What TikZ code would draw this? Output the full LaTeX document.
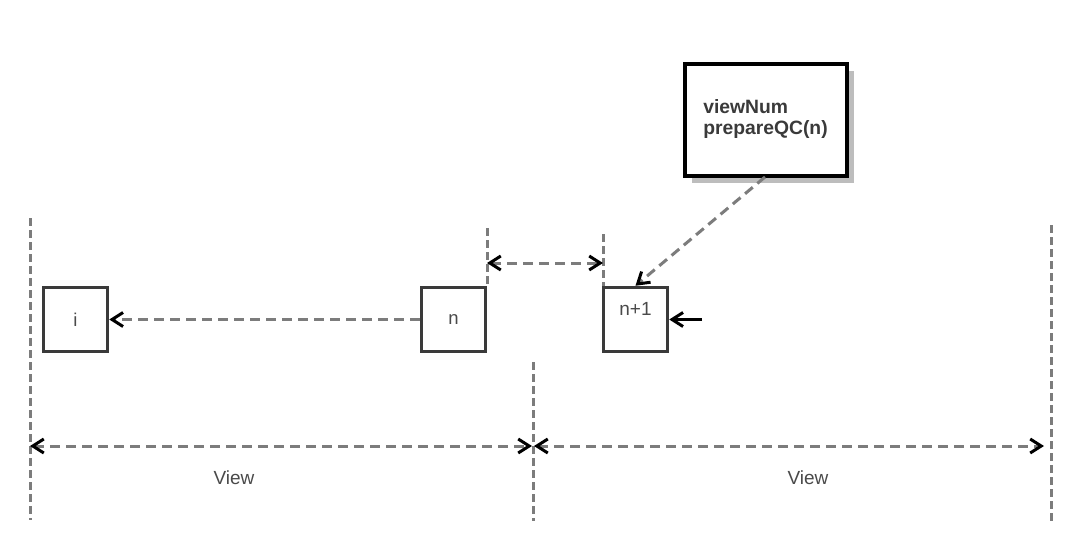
\documentclass[tikz,border=0pt]{standalone}
\usepackage{fontspec}
\setmainfont{Liberation Sans}
\usetikzlibrary{arrows.meta,shadows}
\definecolor{dashgray}{HTML}{7C7C7C}
\definecolor{boxgray}{HTML}{3A3A3A}
\definecolor{txtgray}{HTML}{4A4A4A}
\definecolor{shadowgray}{HTML}{BDBDBD}
\begin{document}
\begin{tikzpicture}[x=1pt,y=-1pt,
  tip/.tip={Straight Barb[length=11pt,width=14pt,line width=3pt,color=black]},
  guide/.style={draw=dashgray,line width=3pt,dash pattern=on 8pt off 4pt},
  conn/.style={draw=dashgray,line width=3pt,dash pattern=on 10pt off 6pt},
  box/.style={draw=boxgray,line width=3.5pt,minimum width=64pt,minimum height=64pt,inner sep=0pt,fill=white,font=\fontsize{18.5}{20}\selectfont,text=txtgray},
  lbl/.style={font=\fontsize{19}{20}\selectfont,text=txtgray,inner sep=0pt},
  note/.style={draw=black,line width=4pt,fill=white,minimum width=162pt,minimum height=112pt,inner sep=0pt,align=left,font=\bfseries\fontsize{19.3}{21}\selectfont,text=boxgray,
    drop shadow={shadow xshift=7pt,shadow yshift=-7pt,fill=shadowgray,opacity=1}},
]
\useasboundingbox[fill=white] (0,0) rectangle (1080,544);

% guide lines
\draw[guide] (30,218) -- (30,520);
\draw[guide] (1051,225) -- (1051,524);
\draw[guide] (533,362) -- (533,521);
\draw[guide] (487,228) -- (487,286);
\draw[guide] (603,234) -- (603,286);

% boxes
\node[box] (i) at (75.5,319.5) {i};
\node[box] (n) at (453.5,319.5) {n};
\node[box] (np) at (635.5,319.5) {};
\node[lbl] (nplbl) at (635.5,309) {n+1};

% note
\node[note] (note) at (765.5,119.5) {viewNum\\prepareQC(n)};

% coordinates
\coordinate (gapL) at (487,263);
\coordinate (gapR) at (603,263);
\coordinate (vL) at (30,446);
\coordinate (vM) at (533,446);
\coordinate (vR) at (1044,446);
\coordinate (push) at (702,319.5);
\coordinate (noteout) at (765,177);

% connectors
\draw[conn,-tip] (n.west) -- (i.east);
\draw[conn,tip-tip] (gapL) -- (gapR);
\draw[conn,-tip] (noteout) -- (np.north);
\draw[draw=black,line width=3pt,-tip] (push) -- (np.east);
\draw[conn,tip-tip] (vL) -- ([xshift=-1pt]vM);
\draw[conn,tip-tip] ([xshift=1pt]vM) -- (vR);

% labels
\node[lbl] (view1) at (234,478) {View};
\node[lbl] (view2) at (808,478) {View};
\end{tikzpicture}
\end{document}
